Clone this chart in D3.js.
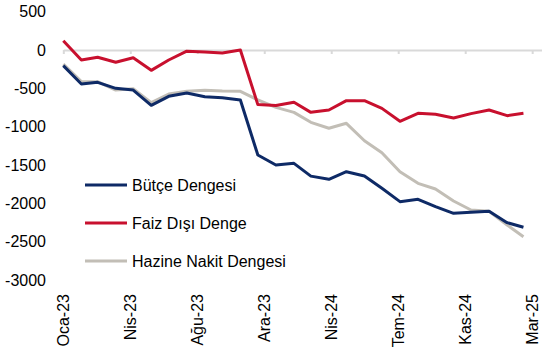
<!DOCTYPE html>
<html>
<head>
<meta charset="utf-8">
<script src="https://cdn.jsdelivr.net/npm/d3@7"></script>
<style>
  body { margin: 0; background: #fff; }
  text { font-family: "Liberation Sans", Arial, sans-serif; fill: #000; }
</style>
</head>
<body>
<script>
// monthly observations, Oca-23 .. Mar-25
let months = ["2023-01","2023-02","2023-03","2023-04","2023-05","2023-06","2023-07","2023-08","2023-09",
              "2023-10","2023-11","2023-12","2024-01","2024-02","2024-03","2024-04","2024-05","2024-06",
              "2024-07","2024-08","2024-09","2024-10","2024-11","2024-12","2025-01","2025-02","2025-03"];

let butce = [-204,-443,-421,-500,-522,-721,-604,-561,-609,-622,-652,-1369,-1500,-1478,-1645,-1686,-1587,-1643,
             -1804,-1978,-1947,-2043,-2130,-2117,-2104,-2252,-2312];
let faizDisi = [121,-130,-95,-160,-100,-265,-130,-15,-26,-40,0,-712,-724,-682,-813,-782,-661,-661,
                -761,-930,-826,-839,-887,-830,-782,-856,-826];
let hazine = [-183,-413,-413,-522,-504,-687,-574,-539,-526,-535,-539,-650,-748,-813,-943,-1021,-956,-1183,
              -1339,-1587,-1739,-1813,-1969,-2087,-2104,-2282,-2435];

let seriesNames = ["Bütçe Dengesi","Faiz Dışı Denge","Hazine Nakit Dengesi"];
let seriesColors = ["#0e2a66","#c8102e","#c2beb6"];

let tickDates = ["2023-01-01","2023-04-26","2023-08-19","2023-12-12","2024-04-05","2024-07-29","2024-11-21","2025-03-16"];
let tickLabels = ["Oca-23","Nis-23","Ağu-23","Ara-23","Nis-24","Tem-24","Kas-24","Mar-25"];
let yTicks = [500,0,-500,-1000,-1500,-2000,-2500,-3000];

let width = 551, height = 352;
let fontSize = "16px";
let svg = d3.select("body").append("svg").attr("width",width).attr("height",height);

let parseDay = d3.timeParse("%Y-%m-%d");
let parseMonth = d3.timeParse("%Y-%m");

let x = d3.scaleTime()
          .domain([parseDay("2023-01-01"), parseDay("2025-04-01")])
          .range([63.3, 541.5]);
let y = d3.scaleLinear()
          .domain([-3000,500])
          .range([280,11.7]);

// y labels (no axis line)
let yAxis = d3.axisLeft(y).tickValues(yTicks).tickFormat((d)=>String(d)).tickSize(0).tickPadding(0);
let yG = svg.append("g").attr("transform","translate(46,0)").call(yAxis);
yG.select(".domain").remove();
yG.selectAll("text").style("font-size",fontSize).style("font-family","Liberation Sans, Arial, sans-serif").attr("fill","#000");

// zero line with ticks, labels pushed to the bottom
let xAxis = d3.axisBottom(x)
              .tickValues(tickDates.map(parseDay))
              .tickFormat((d,i)=>tickLabels[i])
              .tickSize(4).tickSizeOuter(0);
let xG = svg.append("g").attr("transform","translate(0,"+y(0)+")").call(xAxis);
xG.select(".domain").attr("stroke","#d9d9d9").attr("stroke-width",2);
xG.selectAll(".tick line").attr("stroke","#d9d9d9").attr("stroke-width",2);
xG.selectAll(".tick text")
   .attr("y",0).attr("dy","0.35em").attr("x",0)
   .attr("text-anchor","end")
   .attr("transform","translate(0,"+(294 - y(0))+") rotate(-90)")
   .style("font-size",fontSize).style("font-family","Liberation Sans, Arial, sans-serif").attr("fill","#000");

let line = d3.line()
             .x((d,i)=>x(parseMonth(months[i])))
             .y((d)=>y(d));

let allSeries = [butce, faizDisi, hazine];
let drawOrder = [2,0,1];
drawOrder.forEach((k)=>{
  svg.append("path")
     .attr("fill","none")
     .attr("stroke",seriesColors[k])
     .attr("stroke-width",3)
     .attr("stroke-linejoin","round")
     .attr("d",line(allSeries[k]));
});

// legend
let legendY = [185,223,261];
let legend = svg.selectAll("g.legend").data(seriesNames).enter().append("g")
                .attr("class","legend")
                .attr("transform",(d,i)=>"translate(85,"+legendY[i]+")");
legend.append("line").attr("x1",0).attr("x2",42).attr("y1",0).attr("y2",0)
      .attr("stroke",(d,i)=>seriesColors[i]).attr("stroke-width",3);
legend.append("text").attr("x",47).attr("dy","0.35em")
      .style("font-size",fontSize).text((d)=>d);
</script>
</body>
</html>
